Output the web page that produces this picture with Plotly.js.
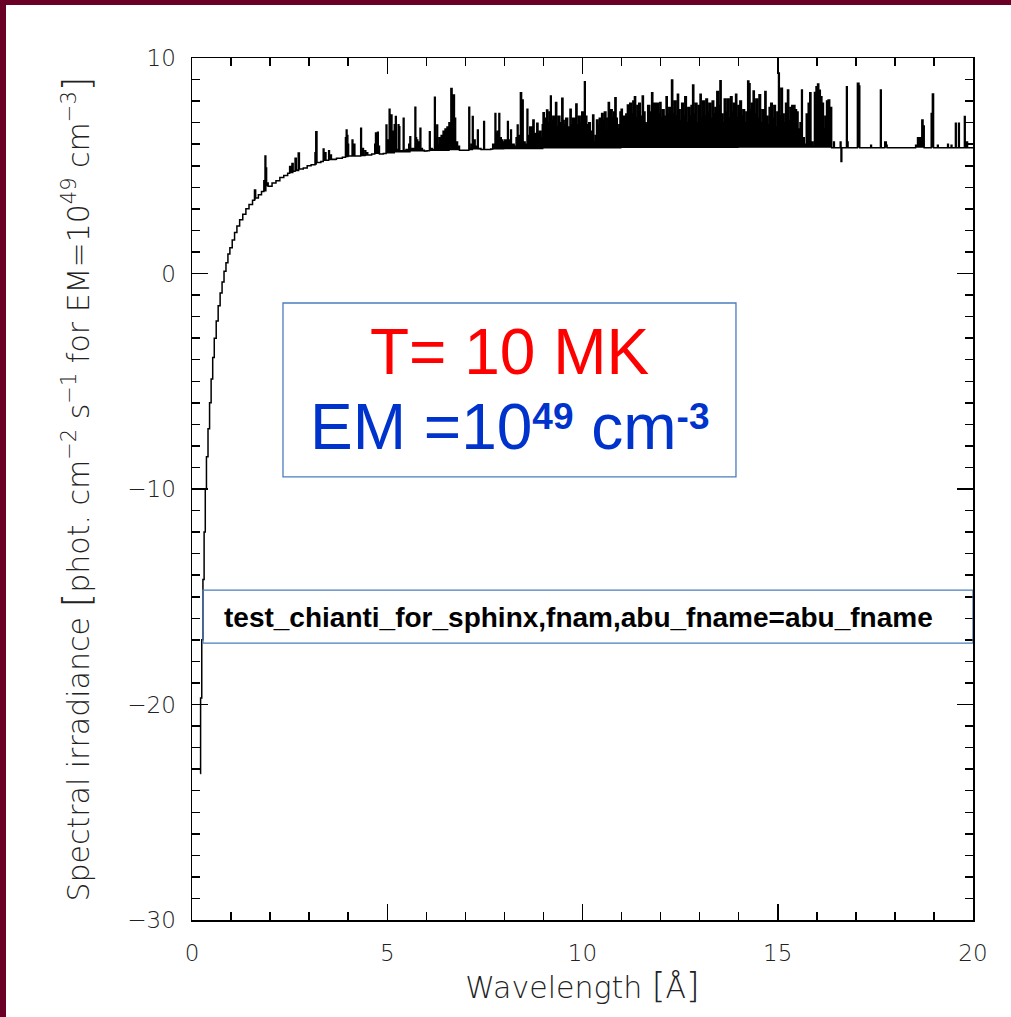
<!DOCTYPE html>
<html><head><meta charset="utf-8">
<script src="https://cdn.plot.ly/plotly-3.0.1.min.js"></script>
<style>html,body{margin:0;padding:0;background:#fff;overflow:hidden;}#chart{width:1011px;height:1017px;}</style>
</head><body><div id="chart"></div>
<script>
// Spectrum (histogram steps, wavelength in Å, irradiance)
const wavelength = [
0.21,0.22,0.25,0.28,0.31,0.34,0.37,0.41,0.45,0.49,
0.53,0.57,0.62,0.67,0.72,0.77,0.82,0.87,0.92,0.97,
1.03,1.09,1.15,1.22,1.30,1.38,1.46,1.55,1.60,1.63,
1.70,1.78,1.84,1.87,1.89,1.91,1.95,2.05,2.15,2.25,
2.35,2.45,2.50,2.53,2.56,2.59,2.64,2.67,2.72,2.75,
2.85,2.95,3.05,3.15,3.17,3.20,3.30,3.36,3.38,3.41,
3.43,3.50,3.52,3.55,3.57,3.70,3.85,3.93,3.95,3.97,
3.99,4.01,4.10,4.12,4.15,4.17,4.32,4.34,4.37,4.39,
4.43,4.45,4.48,4.50,4.60,4.68,4.70,4.72,4.75,4.77,
4.80,4.90,4.97,4.99,5.05,5.07,5.10,5.12,5.15,5.18,
5.21,5.23,5.28,5.30,5.32,5.41,5.43,5.48,5.52,5.55,
5.58,5.60,5.65,5.71,5.73,5.75,5.78,5.84,5.86,5.90,
5.95,6.02,6.08,6.10,6.15,6.21,6.23,6.25,6.27,6.29,
6.33,6.38,6.43,6.48,6.53,6.58,6.63,6.66,6.69,6.72,
6.75,6.80,6.85,7.09,7.11,7.15,7.18,7.20,7.25,7.31,
7.33,7.40,7.47,7.49,7.65,7.70,7.76,7.78,7.82,7.86,
7.88,7.92,7.96,8.01,8.08,8.10,8.16,8.18,8.25,8.30,
8.33,8.35,8.41,8.44,8.46,8.48,8.53,8.58,8.60,8.65,
8.70,8.73,8.76,8.80,8.83,8.86,8.90,8.93,8.97,8.99,
9.02,9.05,9.08,9.11,9.15,9.18,9.20,9.24,9.28,9.31,
9.34,9.38,9.42,9.47,9.50,9.53,9.57,9.62,9.68,9.71,
9.75,9.80,9.83,9.86,9.90,9.94,9.98,10.02,10.05,10.07,
10.11,10.16,10.20,10.23,10.26,10.29,10.33,10.36,10.39,10.43,
10.46,10.49,10.52,10.56,10.60,10.63,10.66,10.69,10.72,10.76,
10.80,10.83,10.86,10.89,10.93,10.96,10.99,11.02,11.05,11.08,
11.11,11.15,11.18,11.21,11.25,11.29,11.33,11.36,11.40,11.44,
11.48,11.53,11.56,11.60,11.63,11.67,11.72,11.77,11.80,11.83,
11.87,11.90,11.94,11.98,12.01,12.05,12.09,12.14,12.17,12.21,
12.25,12.28,12.31,12.35,12.39,12.43,12.46,12.50,12.54,12.58,
12.62,12.66,12.70,12.74,12.78,12.82,12.85,12.89,12.93,12.97,
13.01,13.04,13.08,13.12,13.16,13.20,13.24,13.28,13.32,13.36,
13.40,13.44,13.48,13.52,13.55,13.59,13.63,13.67,13.71,13.75,
13.79,13.83,13.87,13.92,13.95,13.99,14.03,14.07,14.11,14.15,
14.19,14.23,14.26,14.29,14.33,14.37,14.40,14.44,14.48,14.52,
14.56,14.60,14.64,14.67,14.70,14.74,14.78,14.82,14.86,14.90,
14.94,14.98,15.02,15.04,15.08,15.12,15.16,15.20,15.25,15.28,
15.32,15.36,15.40,15.44,15.48,15.52,15.57,15.61,15.63,15.68,
15.73,15.78,15.82,15.85,15.90,15.94,15.98,16.02,16.05,16.09,
16.13,16.17,16.21,16.25,16.29,16.33,16.38,16.43,16.45,16.60,
16.62,16.64,16.76,16.78,16.80,17.04,17.08,17.10,17.38,17.40,
17.63,17.65,17.74,17.78,17.80,18.53,18.58,18.66,18.69,18.72,
18.75,18.93,18.96,18.99,19.09,19.11,19.35,19.37,19.44,19.46,
19.55,19.57,19.63,19.65,19.78,19.80,19.83,19.86,20.0
];
const irradiance = [
-23.2,-19.7,-17.0,-14.2,-12.0,-10.0,-8.5,-7.2,-6.0,-4.9,
-3.9,-3.0,-2.2,-1.5,-0.9,-0.4,0.1,0.5,0.9,1.2,
1.55,1.9,2.2,2.5,2.75,3.0,3.2,3.4,3.87,3.5,
3.65,3.8,4.3,5.45,4.9,4.2,4.05,4.2,4.3,4.45,
4.55,4.65,4.96,4.7,5.11,4.75,5.35,4.8,5.59,4.85,
4.9,5.0,5.05,5.6,6.58,5.15,5.2,5.78,5.25,5.6,
5.25,5.7,5.3,5.5,5.3,5.35,5.4,6.3,6.66,6.4,
6.0,5.45,6.2,5.45,6.0,5.45,6.74,5.48,5.8,5.48,
5.7,5.5,5.6,5.5,5.55,6.0,6.52,6.3,6.55,5.9,
5.55,5.57,6.89,6.2,7.62,6.5,7.35,6.6,6.4,6.9,
7.28,5.75,6.9,6.81,5.7,7.2,5.7,5.75,5.7,6.0,
6.35,5.8,5.8,7.71,6.3,6.2,6.1,6.74,5.8,5.72,
5.68,5.7,6.58,5.8,5.75,8.18,6.1,6.3,6.89,6.0,
6.3,6.4,6.6,6.7,6.8,7.0,8.59,7.7,8.28,7.2,
6.1,5.9,5.72,7.71,5.8,6.0,7.28,6.2,5.9,6.66,
5.8,5.75,7.05,5.75,5.78,6.0,7.43,6.5,6.6,7.43,
6.3,6.2,6.1,6.2,7.05,6.2,6.66,6.0,5.9,6.3,
6.89,6.4,8.39,7.2,8.05,6.1,6.0,7.62,6.4,6.8,
6.5,7.12,6.5,6.4,6.97,6.5,6.6,6.3,6.9,7.46,
7.0,7.2,7.59,7.0,7.5,8.24,7.1,7.3,7.0,7.93,
6.8,7.3,7.0,8.13,7.1,6.9,7.2,6.8,7.62,6.9,
7.2,6.8,7.87,6.9,7.3,7.0,7.5,7.0,8.9,7.3,
6.9,7.0,6.6,6.2,7.35,6.1,6.4,7.12,6.9,7.2,
6.9,7.43,7.1,7.5,6.7,7.2,7.94,7.3,7.6,7.2,
7.5,8.16,7.2,6.7,6.9,7.5,7.62,7.0,7.3,6.6,
7.4,7.82,7.5,7.9,7.4,8.0,8.2,7.2,7.8,7.9,
7.3,8.24,7.5,7.0,6.9,7.8,7.5,8.39,7.3,7.9,
7.0,7.9,7.4,7.94,7.2,7.6,7.3,8.2,7.4,7.7,
7.0,8.98,7.4,8.0,7.3,8.32,7.6,7.1,7.9,7.3,
8.2,7.0,7.7,7.3,7.8,8.75,7.4,7.9,7.0,7.8,
8.32,7.2,8.0,7.3,8.1,7.5,7.9,7.2,8.0,7.4,
7.7,8.44,7.8,8.95,7.4,7.0,8.1,7.5,8.1,7.2,
8.2,7.5,7.9,8.32,7.2,7.8,8.0,7.3,7.6,7.0,
7.5,8.93,8.8,7.6,7.9,8.47,7.4,8.1,7.2,8.3,
7.0,7.6,7.2,8.44,7.3,6.9,7.7,7.9,7.2,7.8,
6.8,7.5,9.3,7.3,8.6,7.4,7.0,7.9,8.51,7.1,
7.7,7.8,7.8,7.6,7.5,6.7,7.0,8.51,6.3,6.0,
7.4,7.9,8.39,6.1,5.9,8.4,8.67,8.79,8.5,8.2,
7.9,6.7,7.3,8.0,8.05,7.7,5.84,6.1,5.84,6.1,
5.2,5.84,8.67,6.1,5.84,8.83,8.7,5.84,5.95,5.84,
8.51,5.84,6.1,5.95,5.84,5.95,6.3,6.3,7.12,6.85,
5.84,7.43,8.33,5.84,5.95,5.84,6.0,5.84,5.95,5.84,
6.97,5.84,6.97,5.84,7.28,5.84,6.1,5.84,5.84
];
// Continuum level under the lines
const contWavelength = [
0.21,0.22,0.25,0.28,0.31,0.34,0.37,0.41,0.45,0.49,
0.53,0.57,0.62,0.67,0.72,0.77,0.82,0.87,0.92,0.97,
1.03,1.09,1.15,1.22,1.30,1.38,1.46,1.55,1.63,1.70,
1.78,1.91,2.05,2.15,2.25,2.35,2.45,2.60,2.75,2.85,
2.95,3.05,3.20,3.30,3.38,3.70,3.85,4.01,4.34,4.45,
4.60,4.90,5.20,5.60,6.00,6.60,7.20,8.00,9.00,11.0,
14.0,16.4,20.0
];
const contIrradiance = [
-23.2,-19.7,-17.0,-14.2,-12.0,-10.0,-8.5,-7.2,-6.0,-4.9,
-3.9,-3.0,-2.2,-1.5,-0.9,-0.4,0.1,0.5,0.9,1.2,
1.55,1.9,2.2,2.5,2.75,3.0,3.2,3.4,3.5,3.65,
3.8,4.05,4.2,4.3,4.45,4.55,4.65,4.75,4.85,4.9,
5.0,5.05,5.15,5.2,5.25,5.35,5.4,5.45,5.48,5.5,
5.55,5.57,5.62,5.66,5.69,5.72,5.75,5.77,5.80,5.82,
5.83,5.84,5.84
];
const xTickVals = [0,5,10,15,20];
const yTickVals = [-30,-20,-10,0,10];

const tickFont = {family:'DejaVu Sans, sans-serif', size:23, color:'#222', weight:200};
const titleFont = {family:'DejaVu Sans, sans-serif', size:30, color:'#222', weight:200};
const maroon = '#6A0026';
const boxBlue = '#4A7EBB';

const traces = [
  {x:contWavelength, y:contIrradiance, type:'scatter', mode:'lines',
   line:{shape:'hv', width:0, color:'rgba(0,0,0,0)'}, hoverinfo:'skip', showlegend:false},
  {x:wavelength, y:irradiance, type:'scatter', mode:'lines',
   line:{shape:'hv', width:1.5, color:'#000'}, fill:'tonexty', fillcolor:'#000', showlegend:false}
];

function px2paperX(p){return (p-192)/781;}
function px2paperY(p){return (920-p)/862;}

const layout = {
  width:1011, height:1017,
  margin:{l:192, r:38, t:58, b:97},
  paper_bgcolor:'#fff', plot_bgcolor:'#fff',
  showlegend:false,
  xaxis:{range:[0,20], tickvals:xTickVals, ticks:'inside', ticklen:16, tickwidth:1.5, tickcolor:'#000',
    showline:true, linecolor:'#000', linewidth:1.5, mirror:'ticks', showgrid:false, zeroline:false,
    minor:{dtick:1, tick0:0, ticks:'inside', ticklen:8, tickwidth:1.5, tickcolor:'#000', showgrid:false},
    tickfont:tickFont, ticklabelstandoff:12,
    title:{text:'Wavelength <span style="font-size:35px">[</span>Å<span style="font-size:35px">]</span>', font:titleFont, standoff:8}},
  yaxis:{range:[-30,10], tickvals:yTickVals, ticks:'inside', ticklen:16, tickwidth:1.5, tickcolor:'#000',
    showline:true, linecolor:'#000', linewidth:1.5, mirror:'ticks', showgrid:false, zeroline:false,
    minor:{dtick:1, tick0:0, ticks:'inside', ticklen:8, tickwidth:1.5, tickcolor:'#000', showgrid:false},
    tickfont:tickFont, ticklabelstandoff:10,
    title:{text:'Spectral irradiance <span style="font-size:38px">[</span>phot. cm<sup>−2</sup> s<sup>−1</sup> for EM=10<sup>49</sup> cm<sup>−3</sup><span style="font-size:38px">]</span>', font:titleFont, standoff:29}},
  shapes:[
    {type:'rect', xref:'x', yref:'y', x0:2.33, x1:13.93, y0:-1.37, y1:-9.44, line:{color:boxBlue, width:1.3}, fillcolor:'rgba(0,0,0,0)'},
    {type:'rect', xref:'x', yref:'y', x0:0.28, x1:20, y0:-14.69, y1:-17.15, line:{color:boxBlue, width:1.3}, fillcolor:'rgba(0,0,0,0)'},
    {type:'rect', xref:'paper', yref:'paper', x0:px2paperX(0), x1:px2paperX(6), y0:px2paperY(1017), y1:px2paperY(0), line:{width:0}, fillcolor:maroon, layer:'above'},
    {type:'rect', xref:'paper', yref:'paper', x0:px2paperX(0), x1:px2paperX(1011), y0:px2paperY(5), y1:px2paperY(0), line:{width:0}, fillcolor:maroon, layer:'above'}
  ],
  annotations:[
    {xref:'x', yref:'y', x:8.14, y:-3.64, text:'T= 10 MK', showarrow:false, xanchor:'center', yanchor:'middle',
     font:{family:'Liberation Sans, Arial, sans-serif', size:64, color:'#FF0000'}},
    {xref:'x', yref:'y', x:8.14, y:-7.1, text:'EM =10<span style="font-size:48px"><sup><span style="font-size:37px"><b>49</b></span></sup></span> cm<span style="font-size:48px"><sup><span style="font-size:37px"><b>-3</b></span></sup></span>', showarrow:false, xanchor:'center', yanchor:'middle',
     font:{family:'Liberation Sans, Arial, sans-serif', size:64, color:'#0033CC'}},
    {xref:'x', yref:'y', x:0.77, y:-15.94, text:'<b>test_chianti_for_sphinx,fnam,abu_fname=abu_fname</b>', showarrow:false, xanchor:'left', yanchor:'middle',
     font:{family:'Liberation Sans, Arial, sans-serif', size:28, color:'#000'}}
  ]
};

Plotly.newPlot('chart', traces, layout, {displayModeBar:false, staticPlot:true});
</script>
</body></html>
